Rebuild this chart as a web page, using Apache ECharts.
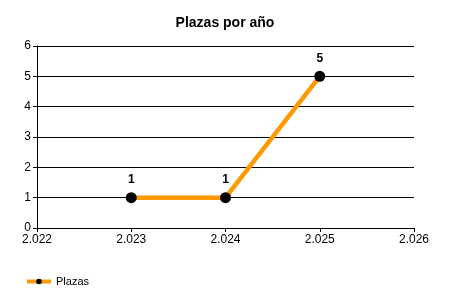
<!DOCTYPE html>
<html>
<head>
<meta charset="utf-8">
<script src="https://cdn.jsdelivr.net/npm/echarts@6/dist/echarts.min.js"></script>
<style>
  html, body { margin: 0; padding: 0; background: #fff; }
  #chart { width: 450px; height: 300px; }
</style>
</head>
<body>
<div id="chart"></div>
<script>
// Plazas per year
const years = [2023, 2024, 2025];
const plazas = [1, 1, 5];
const seriesName = 'Plazas';
const titleText = 'Plazas por año';

// thousands separator "." as in es-ES
function fmtYear(v) {
  const s = String(Math.round(v));
  return s.slice(0, s.length - 3) + '.' + s.slice(-3);
}

const chart = echarts.init(document.getElementById('chart'));
const font = 'Liberation Sans, Arial, sans-serif';

chart.setOption({
  animation: false,
  backgroundColor: '#fff',
  textStyle: { fontFamily: font },
  title: {
    text: titleText,
    left: 'center',
    top: 11,
    textStyle: { fontFamily: font, fontSize: 14, fontWeight: 'bold', color: '#000' }
  },
  legend: {
    left: 20,
    top: 271,
    itemWidth: 24,
    itemHeight: 7,
    itemGap: 4,
    lineStyle: { width: 4, color: '#FF9900' },
    textStyle: { fontFamily: font, fontSize: 11, color: '#000' },
    data: [seriesName]
  },
  grid: { left: 37, right: 36, top: 46, bottom: 72, containLabel: false },
  xAxis: {
    type: 'value',
    min: 2022,
    max: 2026,
    interval: 1,
    axisLine: { lineStyle: { color: '#000', width: 1 } },
    axisTick: { show: true, length: 4, lineStyle: { color: '#000' } },
    axisLabel: { color: '#000', fontSize: 12, fontFamily: font, margin: 6, formatter: fmtYear },
    splitLine: { show: false }
  },
  yAxis: {
    type: 'value',
    min: 0,
    max: 6,
    interval: 1,
    axisLine: { show: true, lineStyle: { color: '#000', width: 1 } },
    axisTick: { show: true, length: 4, lineStyle: { color: '#000' } },
    axisLabel: { color: '#000', fontSize: 12, fontFamily: font, margin: 6 },
    splitLine: { show: true, lineStyle: { color: '#000', width: 1 } }
  },
  series: [{
    name: seriesName,
    type: 'line',
    data: years.map((y, i) => [y, plazas[i]]),
    color: '#FF9900',
    lineStyle: { color: '#FF9900', width: 4.5 },
    symbol: 'circle',
    symbolSize: 11,
    itemStyle: { color: '#000', borderWidth: 0 },
    label: {
      show: true,
      position: 'top',
      distance: 6,
      color: '#000',
      fontWeight: 'bold',
      fontSize: 12,
      fontFamily: font,
      formatter: p => p.value[1]
    },
    z: 5
  }]
});
</script>
</body>
</html>
